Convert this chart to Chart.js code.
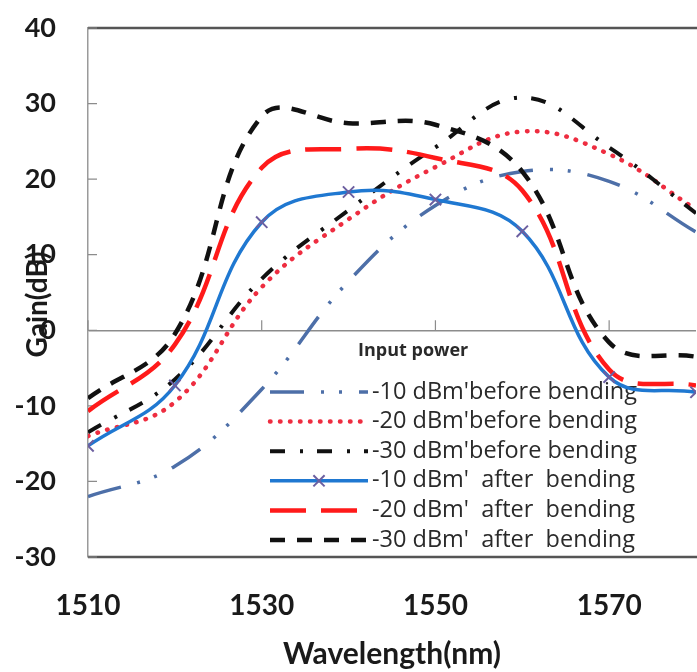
<!DOCTYPE html>
<html>
<head>
<meta charset="utf-8">
<script src="https://cdn.jsdelivr.net/npm/chart.js@4.4.1/dist/chart.umd.min.js"></script>
<style>
  html, body { margin: 0; padding: 0; background: #fff; overflow: hidden; }
  #wrap { width: 706px; height: 672px; }
</style>
</head>
<body>
<div id="wrap"><canvas id="myChart"></canvas></div>
<script>
// wavelength (nm) of each measured point
const wavelengths = [1510, 1520, 1530, 1540, 1550, 1560, 1570, 1580];
const xTickValues = [1510, 1530, 1550, 1570];

// gain (dB) per input power
const before10 = [-22, -18, -7.8, 6.5, 16.5, 21, 19.7, 13];
const before20 = [-14, -9.5, 5.7, 14.7, 21.6, 26.3, 23.3, 16];
const before30 = [-13.5, -6.5, 6.8, 15.9, 24.2, 30.8, 24.2, 15.5];
const after10 = [-15.3, -7.3, 14.3, 18.3, 17.3, 13.1, -6.2, -8.2];
const after20 = [-10.7, -1.9, 21.5, 24, 22.8, 18.5, -5.2, -7.3];
const after30 = [-9, -0.5, 28.3, 27.4, 27.2, 21, -1.6, -3.5];

const seriesLabels = [
  "-10 dBm'before bending",
  "-20 dBm'before bending",
  "-30 dBm'before bending",
  "-10 dBm'  after  bending",
  "-20 dBm'  after  bending",
  "-30 dBm'  after  bending"
];
const legendTitle = 'Input power';

const toPoints = vals => vals.map((v, i) => ({ x: wavelengths[i], y: v }));

const baseLine = {
  fill: false,
  tension: 0.4,
  pointRadius: 0,
  borderCapStyle: 'butt',
  borderJoinStyle: 'round'
};

const datasets = [
  { ...baseLine, label: seriesLabels[0], data: toPoints(before10), borderColor: '#4d6fa8', borderWidth: 3.5, borderDash: [34, 17, 3, 15, 3, 17], order: 5 },
  { ...baseLine, label: seriesLabels[1], data: toPoints(before20), borderColor: '#ee2d40', borderWidth: 4.5, borderDash: [0.5, 9.5], borderCapStyle: 'round', order: 4 },
  { ...baseLine, label: seriesLabels[2], data: toPoints(before30), borderColor: '#111111', borderWidth: 4, borderDash: [15, 15, 3, 14], order: 3 },
  { ...baseLine, label: seriesLabels[3], data: toPoints(after10), borderColor: '#1f78d1', borderWidth: 3.5,
    pointRadius: 8, pointStyle: 'crossRot', pointBorderColor: '#6c5fa0', pointBorderWidth: 2, order: 0 },
  { ...baseLine, label: seriesLabels[4], data: toPoints(after20), borderColor: '#ff1a1a', borderWidth: 4.5, borderDash: [36, 15], order: 1 },
  { ...baseLine, label: seriesLabels[5], data: toPoints(after30), borderColor: '#111111', borderWidth: 4.5, borderDash: [15, 12], order: 2 }
];

// plot frame + little tick marks (inward on the y axis, upward on the zero line)
const framePlugin = {
  id: 'frame',
  beforeDatasetsDraw(chart) {
    const { ctx, chartArea: a, scales: { x, y } } = chart;
    ctx.save();
    ctx.strokeStyle = '#555';
    ctx.lineWidth = 2.5;
    ctx.beginPath();
    ctx.moveTo(a.left, a.top); ctx.lineTo(a.right + 10, a.top);
    ctx.moveTo(a.left, a.bottom); ctx.lineTo(a.right + 10, a.bottom);
    ctx.stroke();

    ctx.strokeStyle = '#8c8c8c';
    ctx.lineWidth = 1.2;
    ctx.beginPath();
    y.ticks.forEach(t => {
      const py = y.getPixelForValue(t.value);
      ctx.moveTo(a.left, py); ctx.lineTo(a.left + 9, py);
    });
    const y0 = y.getPixelForValue(0);
    x.ticks.forEach(t => {
      const px = x.getPixelForValue(t.value);
      ctx.moveTo(px, y0); ctx.lineTo(px, y0 - 10);
    });
    ctx.stroke();
    ctx.restore();
  }
};

// legend drawn inside the plot, under the lines
const legendPlugin = {
  id: 'insideLegend',
  beforeDatasetsDraw(chart) {
    const { ctx, chartArea: a } = chart;
    const x0 = a.left + 182, x1 = a.left + 280, textX = a.left + 284;
    const rowY0 = a.top + 364, rowH = 29.6;
    ctx.save();
    ctx.fillStyle = '#2a2a2a';
    ctx.font = 'bold 18px "Open Sans"';
    ctx.textBaseline = 'middle';
    ctx.textAlign = 'left';
    ctx.fillText(legendTitle, a.left + 270, a.top + 323);
    ctx.font = '23.5px "Open Sans"';
    chart.data.datasets.forEach((ds, i) => {
      const yy = rowY0 + i * rowH;
      ctx.save();
      ctx.strokeStyle = ds.borderColor;
      ctx.lineWidth = ds.borderWidth;
      ctx.lineCap = ds.borderCapStyle || 'butt';
      ctx.setLineDash(ds.borderDash || []);
      ctx.beginPath();
      ctx.moveTo(x0, yy); ctx.lineTo(x1, yy);
      ctx.stroke();
      ctx.restore();
      if (ds.pointRadius > 0) {
        const cx = (x0 + x1) / 2, r = ds.pointRadius * 0.7;
        ctx.save();
        ctx.strokeStyle = ds.pointBorderColor;
        ctx.lineWidth = ds.pointBorderWidth;
        ctx.beginPath();
        ctx.moveTo(cx - r, yy - r); ctx.lineTo(cx + r, yy + r);
        ctx.moveTo(cx - r, yy + r); ctx.lineTo(cx + r, yy - r);
        ctx.stroke();
        ctx.restore();
      }
      ctx.fillStyle = '#2a2a2a';
      ctx.fillText(ds.label, textX, yy);
    });
    ctx.restore();
  }
};

// y title sits over the tick labels like in the original
const yTitlePlugin = {
  id: 'yTitle',
  afterDraw(chart) {
    const { ctx, chartArea: a } = chart;
    ctx.save();
    ctx.translate(38, (a.top + a.bottom) / 2 + 12);
    ctx.rotate(-Math.PI / 2);
    ctx.font = 'bold 28px Lato';
    ctx.fillStyle = '#1a1a1a';
    ctx.textAlign = 'center';
    ctx.textBaseline = 'middle';
    ctx.fillText('Gain(dB)', 0, 0);
    ctx.restore();
  }
};

const ctx = document.getElementById('myChart').getContext('2d');
const myChart = new Chart(ctx, {
  type: 'line',
  data: { datasets: datasets },
  options: {
    responsive: true,
    maintainAspectRatio: false,
    animation: false,
    layout: { padding: { top: 28, right: 2, left: 0, bottom: 0 } },
    plugins: { legend: { display: false }, tooltip: { enabled: false } },
    scales: {
      x: {
        type: 'linear',
        min: 1510,
        max: 1580,
        afterBuildTicks: s => { s.ticks = xTickValues.map(v => ({ value: v })); },
        afterFit: s => { s.height = 115; s.paddingLeft = 0; s.paddingRight = 0; },
        grid: { display: false, drawTicks: false },
        border: { display: false },
        ticks: {
          autoSkip: false, maxRotation: 0, padding: 32,
          callback: v => String(v),
          color: '#1a1a1a', font: { family: 'Lato', size: 28, weight: 'bold' }
        },
        title: {
          display: true, text: 'Wavelength(nm)', color: '#1a1a1a',
          font: { family: 'Lato', size: 30, weight: 'bold' },
          padding: { top: 0, bottom: 0 }
        }
      },
      y: {
        min: -30,
        max: 40,
        afterFit: s => { s.width = 88; s.paddingTop = 0; s.paddingBottom = 0; },
        grid: {
          drawTicks: false,
          lineWidth: 1.5,
          color: c => (c.tick && c.tick.value === 0 ? '#8c8c8c' : 'rgba(0,0,0,0)')
        },
        border: { display: true, color: '#9a9a9a', width: 1.5 },
        ticks: {
          stepSize: 10, padding: 32,
          color: '#1a1a1a', font: { family: 'Lato', size: 27, weight: 'bold' }
        },
        title: { display: false }
      }
    }
  },
  plugins: [framePlugin, legendPlugin, yTitlePlugin]
});
</script>
</body>
</html>
